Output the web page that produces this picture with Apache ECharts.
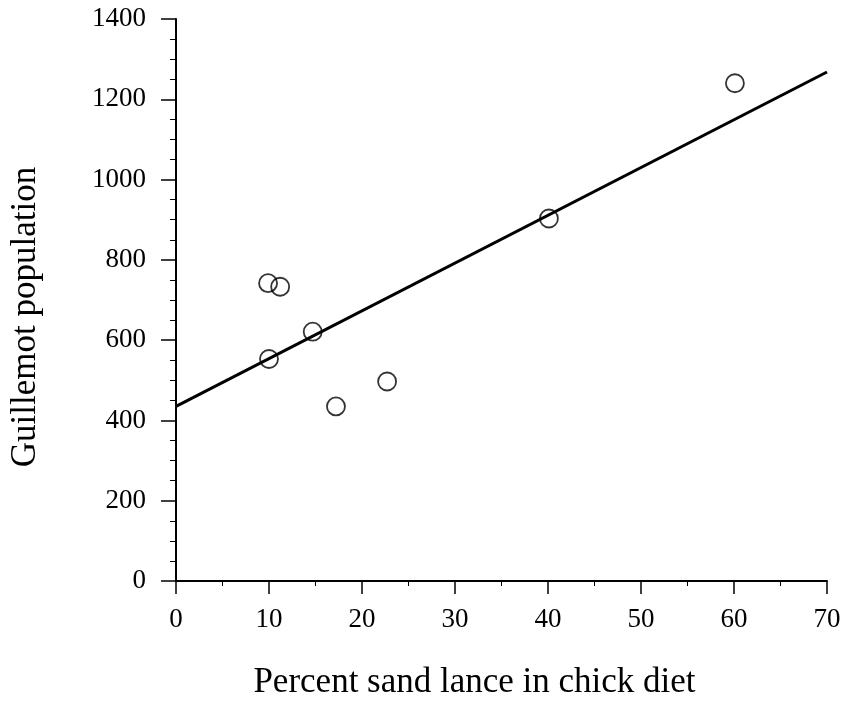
<!DOCTYPE html>
<html>
<head>
<meta charset="utf-8">
<script src="https://cdn.jsdelivr.net/npm/echarts@6/dist/echarts.min.js"></script>
<style>
  html, body { margin: 0; padding: 0; background: #fff; }
  #chart { width: 844px; height: 719px; }
</style>
</head>
<body>
<div id="chart"></div>
<script>
// sand lance % in chick diet vs guillemot population
const sandLance = [9.9, 11.2, 10.0, 14.7, 17.2, 22.7, 40.1, 60.1];
const population = [742, 733, 553, 621, 435, 497, 903, 1240];

// fitted line end points
const fitX = [0, 70];
const fitY = [435, 1268];

const xTicks = [0, 10, 20, 30, 40, 50, 60, 70];
const yTicks = [0, 200, 400, 600, 800, 1000, 1200, 1400];

const serif = 'Liberation Serif, Times New Roman, serif';
const chart = echarts.init(document.getElementById('chart'));

chart.setOption({
    backgroundColor: '#fff',
    animation: false,
    textStyle: { fontFamily: serif, color: '#000' },
    grid: { left: 176, right: 17, top: 19, bottom: 138 },
    xAxis: {
        type: 'value',
        min: xTicks[0],
        max: xTicks[xTicks.length - 1],
        interval: 10,
        name: 'Percent sand lance in chick diet',
        nameLocation: 'middle',
        nameGap: 84,
        // title sits a bit left of the axis centre in the original
        nameTextStyle: { fontFamily: serif, fontSize: 35, color: '#000', padding: [0, 54, 0, 0] },
        axisLine: { onZero: false, lineStyle: { color: '#000', width: 2 } },
        axisTick: { length: 13, lineStyle: { color: '#000', width: 1.5 } },
        minorTick: { show: true, splitNumber: 2, length: 5, lineStyle: { color: '#000', width: 1 } },
        axisLabel: { fontFamily: serif, fontSize: 27, color: '#000', margin: 25, formatter: v => String(v) },
        splitLine: { show: false }
    },
    yAxis: {
        type: 'value',
        min: yTicks[0],
        max: yTicks[yTicks.length - 1],
        interval: 200,
        name: 'Guillemot population',
        nameLocation: 'middle',
        nameGap: 133,
        nameTextStyle: { fontFamily: serif, fontSize: 35, color: '#000', padding: [0, 34, 0, 0] },
        axisLine: { show: true, lineStyle: { color: '#000', width: 2 } },
        axisTick: { length: 15, lineStyle: { color: '#000', width: 1.5 } },
        minorTick: { show: true, splitNumber: 4, length: 6, lineStyle: { color: '#000', width: 1 } },
        axisLabel: { fontFamily: serif, fontSize: 27, color: '#000', margin: 30, formatter: v => String(v) },
        splitLine: { show: false }
    },
    series: [
        {
            type: 'line',
            data: fitX.map((x, i) => [x, fitY[i]]),
            showSymbol: false,
            lineStyle: { color: '#000', width: 3 },
            z: 2
        },
        {
            type: 'scatter',
            data: sandLance.map((x, i) => [x, population[i]]),
            symbol: 'circle',
            symbolSize: 18,
            itemStyle: { color: 'rgba(255,255,255,0)', borderColor: '#000', borderWidth: 1.8 },
            z: 3
        }
    ]
});
</script>
</body>
</html>
